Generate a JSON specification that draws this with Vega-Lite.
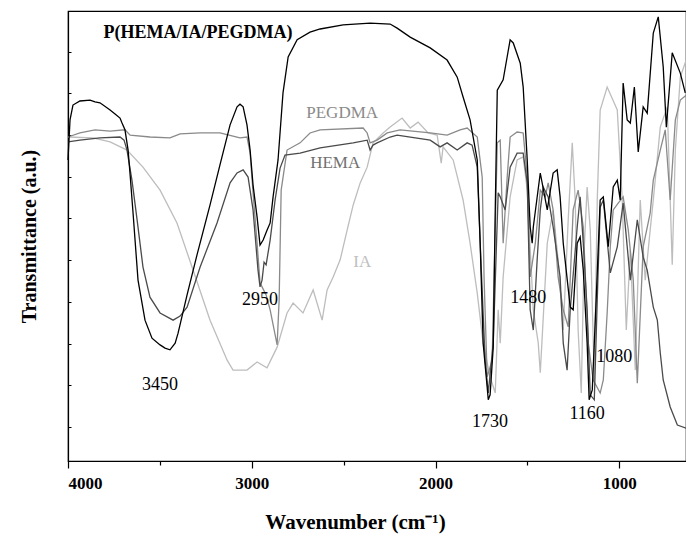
{
  "$schema": "https://vega.github.io/schema/vega-lite/v6.json",
  "width": 618,
  "height": 450,
  "autosize": {"type": "none"},
  "padding": {"left": 68, "top": 11, "right": 0, "bottom": 89},
  "background": "white",
  "config": {"view": {"stroke": "black", "strokeWidth": 1.2}},
  "datasets": {
    "P": [
      {"w":4000,"t":66.9},{"w":3989,"t":75.8},{"w":3973,"t":79.1},{"w":3935,"t":80.0},{"w":3880,"t":80.2},{"w":3853,"t":79.8},{"w":3826,"t":79.6},{"w":3771,"t":78.0},{"w":3744,"t":77.1},{"w":3717,"t":76.2},{"w":3706,"t":75.1},{"w":3690,"t":73.6},{"w":3673,"t":69.1},{"w":3662,"t":63.6},{"w":3646,"t":55.1},{"w":3619,"t":40.2},{"w":3581,"t":31.3},{"w":3543,"t":27.3},{"w":3499,"t":25.8},{"w":3472,"t":25.1},{"w":3445,"t":24.7},{"w":3417,"t":26.2},{"w":3401,"t":28.4},{"w":3352,"t":36.9},{"w":3298,"t":45.8},{"w":3227,"t":56.9},{"w":3173,"t":65.8},{"w":3118,"t":74.7},{"w":3080,"t":78.7},{"w":3064,"t":79.3},{"w":3047,"t":78.7},{"w":3026,"t":74.7},{"w":3009,"t":69.1},{"w":2993,"t":61.3},{"w":2971,"t":54.2},{"w":2955,"t":48.0},{"w":2938,"t":49.1},{"w":2917,"t":51.3},{"w":2900,"t":52.9},{"w":2884,"t":58.7},{"w":2857,"t":66.9},{"w":2830,"t":81.8},{"w":2802,"t":89.8},{"w":2753,"t":93.6},{"w":2683,"t":95.3},{"w":2628,"t":96.0},{"w":2503,"t":96.9},{"w":2356,"t":97.3},{"w":2247,"t":97.1},{"w":2209,"t":96.2},{"w":2138,"t":94.2},{"w":2029,"t":91.8},{"w":1937,"t":89.1},{"w":1882,"t":85.3},{"w":1850,"t":80.9},{"w":1812,"t":75.8},{"w":1773,"t":66.9},{"w":1757,"t":48.4},{"w":1741,"t":26.2},{"w":1719,"t":16.4},{"w":1713,"t":13.6},{"w":1703,"t":14.7},{"w":1686,"t":25.3},{"w":1675,"t":55.8},{"w":1664,"t":82.4},{"w":1632,"t":84.7},{"w":1594,"t":93.6},{"w":1577,"t":92.9},{"w":1539,"t":88.4},{"w":1523,"t":83.1},{"w":1501,"t":66.9},{"w":1485,"t":52.0},{"w":1474,"t":48.4},{"w":1468,"t":52.0},{"w":1430,"t":64.0},{"w":1392,"t":55.8},{"w":1360,"t":64.0},{"w":1338,"t":64.7},{"w":1322,"t":58.7},{"w":1305,"t":48.4},{"w":1267,"t":34.2},{"w":1251,"t":33.6},{"w":1229,"t":48.4},{"w":1213,"t":49.8},{"w":1196,"t":42.4},{"w":1175,"t":26.2},{"w":1164,"t":13.6},{"w":1147,"t":15.8},{"w":1126,"t":35.8},{"w":1104,"t":58.0},{"w":1087,"t":58.7},{"w":1060,"t":47.6},{"w":1033,"t":60.9},{"w":1011,"t":62.4},{"w":995,"t":58.0},{"w":979,"t":84.0},{"w":957,"t":75.8},{"w":940,"t":75.1},{"w":918,"t":83.1},{"w":897,"t":68.7},{"w":870,"t":78.7},{"w":848,"t":77.3},{"w":815,"t":95.1},{"w":788,"t":98.7},{"w":761,"t":87.6},{"w":744,"t":74.2},{"w":712,"t":90.7},{"w":668,"t":86.2},{"w":641,"t":81.8}
    ],
    "HEMA": [
      {"w":4000,"t":70.9},{"w":3935,"t":71.3},{"w":3826,"t":71.8},{"w":3717,"t":72.0},{"w":3695,"t":71.3},{"w":3679,"t":69.1},{"w":3652,"t":62.4},{"w":3624,"t":53.6},{"w":3592,"t":43.1},{"w":3554,"t":36.4},{"w":3499,"t":32.9},{"w":3428,"t":31.3},{"w":3390,"t":32.2},{"w":3352,"t":34.2},{"w":3281,"t":43.1},{"w":3189,"t":52.9},{"w":3118,"t":61.8},{"w":3080,"t":64.0},{"w":3047,"t":64.7},{"w":3020,"t":63.1},{"w":2993,"t":55.8},{"w":2966,"t":42.4},{"w":2955,"t":38.7},{"w":2944,"t":40.2},{"w":2933,"t":44.2},{"w":2922,"t":43.6},{"w":2900,"t":49.1},{"w":2873,"t":58.0},{"w":2846,"t":65.1},{"w":2819,"t":68.0},{"w":2737,"t":68.4},{"w":2628,"t":69.6},{"w":2448,"t":70.7},{"w":2372,"t":71.3},{"w":2356,"t":69.1},{"w":2340,"t":70.2},{"w":2318,"t":70.7},{"w":2247,"t":72.0},{"w":2209,"t":72.4},{"w":2029,"t":71.3},{"w":1975,"t":69.8},{"w":1937,"t":70.7},{"w":1882,"t":69.1},{"w":1828,"t":70.7},{"w":1801,"t":70.2},{"w":1773,"t":65.3},{"w":1757,"t":48.4},{"w":1730,"t":22.4},{"w":1713,"t":15.1},{"w":1686,"t":26.2},{"w":1659,"t":59.6},{"w":1648,"t":58.7},{"w":1621,"t":55.8},{"w":1594,"t":65.3},{"w":1556,"t":68.4},{"w":1523,"t":68.4},{"w":1501,"t":61.8},{"w":1485,"t":33.6},{"w":1468,"t":29.1},{"w":1447,"t":44.7},{"w":1430,"t":55.8},{"w":1414,"t":60.9},{"w":1387,"t":58.7},{"w":1360,"t":52.0},{"w":1322,"t":40.9},{"w":1305,"t":26.2},{"w":1284,"t":20.2},{"w":1267,"t":33.6},{"w":1229,"t":52.0},{"w":1213,"t":58.7},{"w":1196,"t":48.4},{"w":1175,"t":33.6},{"w":1158,"t":14.7},{"w":1136,"t":13.6},{"w":1120,"t":35.8},{"w":1104,"t":56.4},{"w":1087,"t":58.0},{"w":1049,"t":41.8},{"w":1011,"t":47.6},{"w":979,"t":57.3},{"w":940,"t":40.2},{"w":902,"t":53.6},{"w":870,"t":45.3},{"w":848,"t":42.4},{"w":815,"t":34.2},{"w":793,"t":31.3},{"w":777,"t":24.0},{"w":761,"t":18.0},{"w":723,"t":12.0},{"w":684,"t":8.0},{"w":636,"t":7.3}
    ],
    "PEGDMA": [
      {"w":4000,"t":72.0},{"w":3935,"t":72.9},{"w":3853,"t":73.6},{"w":3771,"t":73.3},{"w":3690,"t":73.6},{"w":3662,"t":72.4},{"w":3554,"t":72.0},{"w":3445,"t":71.8},{"w":3390,"t":72.7},{"w":3281,"t":72.9},{"w":3173,"t":72.9},{"w":3064,"t":71.8},{"w":3026,"t":72.0},{"w":3009,"t":68.4},{"w":2993,"t":59.6},{"w":2971,"t":48.4},{"w":2955,"t":39.6},{"w":2944,"t":38.7},{"w":2922,"t":36.9},{"w":2900,"t":33.6},{"w":2862,"t":25.8},{"w":2851,"t":35.8},{"w":2840,"t":60.2},{"w":2808,"t":69.1},{"w":2737,"t":70.7},{"w":2683,"t":72.9},{"w":2628,"t":73.6},{"w":2394,"t":74.0},{"w":2372,"t":72.9},{"w":2356,"t":70.7},{"w":2318,"t":71.3},{"w":2263,"t":72.9},{"w":2193,"t":73.6},{"w":2029,"t":72.9},{"w":1937,"t":72.4},{"w":1866,"t":73.6},{"w":1828,"t":74.0},{"w":1773,"t":72.0},{"w":1746,"t":63.1},{"w":1736,"t":40.9},{"w":1719,"t":18.7},{"w":1692,"t":22.4},{"w":1664,"t":70.7},{"w":1648,"t":71.3},{"w":1632,"t":48.4},{"w":1610,"t":63.1},{"w":1594,"t":72.0},{"w":1556,"t":73.1},{"w":1523,"t":72.9},{"w":1501,"t":63.1},{"w":1485,"t":40.9},{"w":1457,"t":48.4},{"w":1430,"t":60.2},{"w":1403,"t":58.7},{"w":1387,"t":61.8},{"w":1360,"t":55.8},{"w":1333,"t":40.9},{"w":1305,"t":33.6},{"w":1278,"t":29.8},{"w":1251,"t":55.8},{"w":1224,"t":60.2},{"w":1196,"t":52.0},{"w":1169,"t":26.2},{"w":1142,"t":18.0},{"w":1104,"t":15.1},{"w":1087,"t":18.0},{"w":1066,"t":32.9},{"w":1049,"t":47.6},{"w":1033,"t":55.8},{"w":1006,"t":57.3},{"w":979,"t":58.7},{"w":951,"t":51.3},{"w":924,"t":40.2},{"w":902,"t":17.3},{"w":870,"t":47.6},{"w":832,"t":55.1},{"w":815,"t":62.4},{"w":777,"t":69.1},{"w":750,"t":73.6},{"w":723,"t":58.0},{"w":695,"t":75.8},{"w":668,"t":80.2},{"w":636,"t":81.3}
    ],
    "IA": [
      {"w":4000,"t":72.0},{"w":3864,"t":71.8},{"w":3771,"t":70.9},{"w":3679,"t":69.1},{"w":3592,"t":65.3},{"w":3499,"t":60.2},{"w":3407,"t":52.9},{"w":3319,"t":42.4},{"w":3227,"t":31.3},{"w":3134,"t":22.4},{"w":3102,"t":20.2},{"w":3026,"t":20.2},{"w":2971,"t":22.0},{"w":2917,"t":20.7},{"w":2862,"t":25.3},{"w":2808,"t":32.9},{"w":2775,"t":35.1},{"w":2721,"t":32.9},{"w":2666,"t":38.0},{"w":2617,"t":31.3},{"w":2590,"t":38.0},{"w":2557,"t":40.9},{"w":2519,"t":44.7},{"w":2481,"t":51.3},{"w":2448,"t":56.9},{"w":2410,"t":61.8},{"w":2372,"t":65.3},{"w":2340,"t":70.7},{"w":2285,"t":72.9},{"w":2247,"t":74.2},{"w":2182,"t":76.2},{"w":2138,"t":74.0},{"w":2095,"t":75.3},{"w":2040,"t":72.9},{"w":1991,"t":72.4},{"w":1969,"t":66.2},{"w":1959,"t":69.8},{"w":1904,"t":66.9},{"w":1850,"t":58.0},{"w":1812,"t":48.4},{"w":1773,"t":37.3},{"w":1741,"t":26.2},{"w":1703,"t":18.7},{"w":1675,"t":15.1},{"w":1659,"t":33.6},{"w":1648,"t":26.2},{"w":1632,"t":40.9},{"w":1594,"t":58.7},{"w":1556,"t":66.9},{"w":1523,"t":67.6},{"w":1501,"t":60.2},{"w":1468,"t":33.6},{"w":1441,"t":26.2},{"w":1430,"t":19.6},{"w":1392,"t":48.4},{"w":1360,"t":55.8},{"w":1333,"t":44.7},{"w":1305,"t":29.1},{"w":1278,"t":53.6},{"w":1256,"t":70.7},{"w":1240,"t":58.0},{"w":1224,"t":29.1},{"w":1207,"t":15.1},{"w":1191,"t":46.9},{"w":1175,"t":60.9},{"w":1158,"t":51.3},{"w":1136,"t":18.0},{"w":1120,"t":58.0},{"w":1104,"t":78.0},{"w":1066,"t":83.1},{"w":1011,"t":78.0},{"w":984,"t":58.0},{"w":962,"t":29.1},{"w":940,"t":46.9},{"w":913,"t":20.2},{"w":886,"t":58.0},{"w":859,"t":40.2},{"w":832,"t":51.3},{"w":815,"t":58.0},{"w":777,"t":74.2},{"w":739,"t":78.7},{"w":723,"t":58.0},{"w":712,"t":43.6},{"w":695,"t":69.1},{"w":668,"t":85.3},{"w":636,"t":89.1}
    ],
    "labels": [
      {"k":"title","txt":"P(HEMA/IA/PEGDMA)","w":3292,"t":95.1},
      {"k":"PEGDMA","txt":"PEGDMA","w":2508,"t":77.3},
      {"k":"HEMA","txt":"HEMA","w":2546,"t":66.2},
      {"k":"IA","txt":"IA","w":2399,"t":44.2},
      {"k":"num","txt":"2950","w":2955,"t":35.8},
      {"k":"num","txt":"3450","w":3499,"t":16.9},
      {"k":"num","txt":"1730","w":1703,"t":8.7},
      {"k":"num","txt":"1480","w":1496,"t":36.2},
      {"k":"num","txt":"1160","w":1175,"t":10.4},
      {"k":"num","txt":"1080","w":1028,"t":23.1}
    ]
  },
  "encoding": {
    "x": {
      "field": "w", "type": "quantitative",
      "scale": {"domain": [4000, 637], "nice": false, "zero": false},
      "axis": {
        "values": [4000, 3500, 3000, 2500, 2000, 1500, 1000],
        "format": "d",
        "labelExpr": "datum.value % 1000 === 0 ? datum.label : ''",
        "labelFont": "Liberation Serif", "labelFontWeight": "bold", "labelFontSize": 17, "labelColor": "black",
        "labelPadding": 7,
        "tickColor": "black", "domainColor": "black", "domainWidth": 1.2, "tickWidth": 1.2,
        "tickSize": {"condition": {"test": "datum.value % 1000 === 0", "value": 7}, "value": 4},
        "grid": false,
        "title": "Wavenumber (cm⁻¹)",
        "titleFont": "Liberation Serif", "titleFontWeight": "bold", "titleFontSize": 21, "titleColor": "black",
        "titleX": 287,
        "titlePadding": 20
      }
    },
    "y": {
      "field": "t", "type": "quantitative",
      "scale": {"domain": [0, 100], "nice": false, "zero": false},
      "axis": {
        "values": [7.6, 16.8, 26.0, 35.3, 44.6, 53.9, 63.2, 72.4, 81.7, 90.9],
        "labels": false,
        "tickSize": -3, "tickColor": "black", "domainColor": "black", "domainWidth": 1.2,
        "grid": false,
        "title": "Transmittance  (a.u.)",
        "titleFont": "Liberation Serif", "titleFontWeight": "bold", "titleFontSize": 20, "titleColor": "black",
        "titlePadding": 28
      }
    }
  },
  "layer": [
    {"data": {"name": "IA"}, "mark": {"type": "line", "color": "#bdbdbd", "strokeWidth": 1.3}},
    {"data": {"name": "PEGDMA"}, "mark": {"type": "line", "color": "#8a8a8a", "strokeWidth": 1.3}},
    {"data": {"name": "HEMA"}, "mark": {"type": "line", "color": "#4a4a4a", "strokeWidth": 1.3}},
    {"data": {"name": "P"}, "mark": {"type": "line", "color": "#000000", "strokeWidth": 1.3}},
    {"data": {"name": "labels"}, "transform": [{"filter": "datum.k === 'title'"}],
     "mark": {"type": "text", "font": "Liberation Serif", "fontWeight": "bold", "fontSize": 18, "color": "black"},
     "encoding": {"text": {"field": "txt"}}},
    {"data": {"name": "labels"}, "transform": [{"filter": "datum.k === 'num'"}],
     "mark": {"type": "text", "font": "Liberation Serif", "fontSize": 18, "color": "black"},
     "encoding": {"text": {"field": "txt"}}},
    {"data": {"name": "labels"}, "transform": [{"filter": "datum.k === 'PEGDMA'"}],
     "mark": {"type": "text", "font": "Liberation Serif", "fontSize": 17, "color": "#8a8a8a"},
     "encoding": {"text": {"field": "txt"}}},
    {"data": {"name": "labels"}, "transform": [{"filter": "datum.k === 'HEMA'"}],
     "mark": {"type": "text", "font": "Liberation Serif", "fontSize": 17, "color": "#707070"},
     "encoding": {"text": {"field": "txt"}}},
    {"data": {"name": "labels"}, "transform": [{"filter": "datum.k === 'IA'"}],
     "mark": {"type": "text", "font": "Liberation Serif", "fontSize": 17, "color": "#c0c0c0"},
     "encoding": {"text": {"field": "txt"}}}
  ]
}
